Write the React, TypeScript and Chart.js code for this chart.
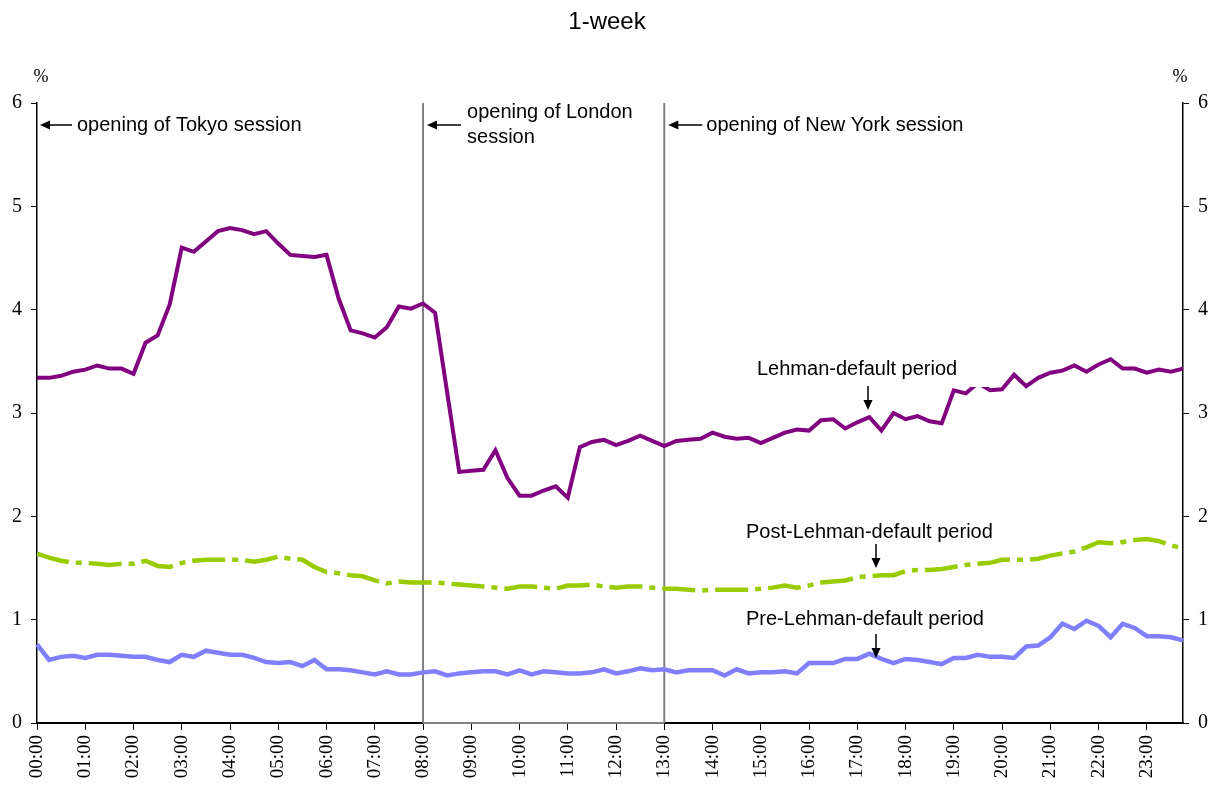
import React, { useEffect, useRef } from 'react';
import { Chart, registerables } from 'chart.js';

Chart.register(...registerables);

const hourLabels = [
  '00:00', '01:00', '02:00', '03:00', '04:00', '05:00', '06:00', '07:00',
  '08:00', '09:00', '10:00', '11:00', '12:00', '13:00', '14:00', '15:00',
  '16:00', '17:00', '18:00', '19:00', '20:00', '21:00', '22:00', '23:00',
];
const quarterMinutes = ['00', '15', '30', '45'];
const categories = hourLabels.flatMap((h) => quarterMinutes.map((m) => h.slice(0, 3) + m));

const lehmanPeriod = [
  3.34, 3.34, 3.36, 3.40, 3.42, 3.46, 3.43, 3.43, 3.38, 3.68, 3.75, 4.05,
  4.60, 4.56, 4.66, 4.76, 4.79, 4.77, 4.73, 4.76, 4.64, 4.53, 4.52, 4.51,
  4.53, 4.11, 3.80, 3.77, 3.73, 3.83, 4.03, 4.01, 4.06, 3.97, 3.20, 2.43,
  2.44, 2.45, 2.64, 2.37, 2.20, 2.20, 2.25, 2.29, 2.18, 2.67, 2.72, 2.74,
  2.69, 2.73, 2.78, 2.73, 2.68, 2.73, 2.74, 2.75, 2.81, 2.77, 2.75, 2.76,
  2.71, 2.76, 2.81, 2.84, 2.83, 2.93, 2.94, 2.85, 2.91, 2.96, 2.83, 3.00,
  2.94, 2.97, 2.92, 2.90, 3.22, 3.19, 3.29, 3.22, 3.23, 3.37, 3.26, 3.34,
  3.39, 3.41, 3.46, 3.40, 3.47, 3.52, 3.43, 3.43, 3.39, 3.42, 3.40, 3.43,
];

const postLehmanPeriod = [
  1.64, 1.60, 1.57, 1.55, 1.55, 1.54, 1.53, 1.54, 1.54, 1.57, 1.52, 1.51,
  1.55, 1.57, 1.58, 1.58, 1.58, 1.58, 1.56, 1.58, 1.61, 1.59, 1.58, 1.51,
  1.46, 1.45, 1.43, 1.42, 1.38, 1.35, 1.37, 1.36, 1.36, 1.36, 1.35, 1.34,
  1.33, 1.32, 1.31, 1.30, 1.32, 1.32, 1.31, 1.30, 1.33, 1.33, 1.34, 1.32,
  1.31, 1.32, 1.32, 1.31, 1.30, 1.30, 1.29, 1.28, 1.29, 1.29, 1.29, 1.29,
  1.30, 1.31, 1.33, 1.31, 1.33, 1.36, 1.37, 1.38, 1.41, 1.42, 1.43, 1.43,
  1.47, 1.48, 1.48, 1.49, 1.51, 1.53, 1.54, 1.55, 1.58, 1.58, 1.58, 1.59,
  1.62, 1.64, 1.66, 1.70, 1.75, 1.74, 1.75, 1.77, 1.78, 1.76, 1.72, 1.69,
];

const preLehmanPeriod = [
  0.76, 0.61, 0.64, 0.65, 0.63, 0.66, 0.66, 0.65, 0.64, 0.64, 0.61, 0.59,
  0.66, 0.64, 0.70, 0.68, 0.66, 0.66, 0.63, 0.59, 0.58, 0.59, 0.55, 0.61,
  0.52, 0.52, 0.51, 0.49, 0.47, 0.50, 0.47, 0.47, 0.49, 0.50, 0.46, 0.48,
  0.49, 0.50, 0.50, 0.47, 0.51, 0.47, 0.50, 0.49, 0.48, 0.48, 0.49, 0.52,
  0.48, 0.50, 0.53, 0.51, 0.52, 0.49, 0.51, 0.51, 0.51, 0.46, 0.52, 0.48,
  0.49, 0.49, 0.50, 0.48, 0.58, 0.58, 0.58, 0.62, 0.62, 0.67, 0.62, 0.58,
  0.62, 0.61, 0.59, 0.57, 0.63, 0.63, 0.66, 0.64, 0.64, 0.63, 0.74, 0.75,
  0.83, 0.96, 0.91, 0.99, 0.94, 0.83, 0.96, 0.92, 0.84, 0.84, 0.83, 0.80,
];

const yTicks = [0, 1, 2, 3, 4, 5, 6];
const sessionOpenings = ['00:00', '08:00', '13:00'];

const SERIF = "'Liberation Serif', 'Times New Roman', serif";
const SANS = "'Liberation Sans', Arial, sans-serif";

function leftArrow(ctx: CanvasRenderingContext2D, x1: number, x2: number, y: number) {
  ctx.beginPath();
  ctx.moveTo(x1, y);
  ctx.lineTo(x2 + 6, y);
  ctx.stroke();
  ctx.beginPath();
  ctx.moveTo(x2, y);
  ctx.lineTo(x2 + 10, y - 4.5);
  ctx.lineTo(x2 + 10, y + 4.5);
  ctx.closePath();
  ctx.fill();
}

function downArrow(ctx: CanvasRenderingContext2D, x: number, y1: number, y2: number) {
  ctx.beginPath();
  ctx.moveTo(x, y1);
  ctx.lineTo(x, y2 - 6);
  ctx.stroke();
  ctx.beginPath();
  ctx.moveTo(x, y2);
  ctx.lineTo(x - 4.5, y2 - 10);
  ctx.lineTo(x + 4.5, y2 - 10);
  ctx.closePath();
  ctx.fill();
}

const overlayPlugin = {
  id: 'overlay',
  beforeDatasetsDraw(chart: any) {
    const { ctx, chartArea, scales } = chart;
    ctx.save();
    ctx.strokeStyle = '#808080';
    ctx.lineWidth = 2;
    for (const lbl of sessionOpenings.slice(1)) {
      const px = scales.x.getPixelForValue(categories.indexOf(lbl));
      ctx.beginPath();
      ctx.moveTo(px, chartArea.top);
      ctx.lineTo(px, chartArea.bottom);
      ctx.stroke();
    }
    ctx.restore();
  },
  afterDatasetsDraw(chart: any) {
    const { ctx, scales } = chart;
    const xs = scales.x;
    const tokyo = xs.getPixelForValue(categories.indexOf('00:00'));
    const london = xs.getPixelForValue(categories.indexOf('08:00'));
    const ny = xs.getPixelForValue(categories.indexOf('13:00'));
    ctx.save();
    // white text box behind the Lehman label
    ctx.fillStyle = '#fff';
    ctx.fillRect(750, 355, 238, 32);
    ctx.fillStyle = '#000';
    ctx.strokeStyle = '#000';
    ctx.lineWidth = 1.5;
    ctx.font = `20px ${SANS}`;
    ctx.textBaseline = 'middle';
    ctx.textAlign = 'left';
    leftArrow(ctx, tokyo + 35, tokyo + 3, 125);
    ctx.fillText('opening of Tokyo session', tokyo + 40, 125);
    leftArrow(ctx, london + 38, london + 4, 125);
    ctx.fillText('opening of London', london + 44, 112);
    ctx.fillText('session', london + 44, 137);
    leftArrow(ctx, ny + 38, ny + 4, 125);
    ctx.fillText('opening of New York session', ny + 42, 125);

    ctx.fillText('Lehman-default period', 757, 369);
    downArrow(ctx, 868, 386, 410);
    ctx.fillText('Post-Lehman-default period', 746, 532);
    downArrow(ctx, 876, 544, 568);
    ctx.fillText('Pre-Lehman-default period', 746, 619);
    downArrow(ctx, 876, 634, 658);
    ctx.restore();
  },
  afterDraw(chart: any) {
    const { ctx, chartArea, scales } = chart;
    ctx.save();
    const l = scales.x.getPixelForValue(categories.indexOf('08:00'));
    const r = scales.x.getPixelForValue(categories.indexOf('13:00'));
    ctx.strokeStyle = '#808080';
    ctx.lineWidth = 2;
    ctx.beginPath();
    ctx.moveTo(l, chartArea.bottom);
    ctx.lineTo(r, chartArea.bottom);
    ctx.stroke();

    ctx.fillStyle = '#000';
    ctx.font = `24px ${SANS}`;
    ctx.textAlign = 'center';
    ctx.textBaseline = 'middle';
    ctx.fillText('1-week', 607, 22);
    ctx.font = `18px ${SERIF}`;
    ctx.fillText('%', 41, 77);
    ctx.fillText('%', 1180, 77);
    ctx.restore();
  },
};

export default function App() {
  const canvasRef = useRef<HTMLCanvasElement | null>(null);

  useEffect(() => {
    document.body.style.margin = '0';
    const canvas = canvasRef.current;
    if (!canvas) return;
    const tickFont = { family: SERIF, size: 20 };
    const yAxisCommon = {
      type: 'linear' as const,
      min: yTicks[0],
      max: yTicks[yTicks.length - 1],
      afterBuildTicks: (scale: any) => {
        scale.ticks = yTicks.map((v) => ({ value: v }));
      },
      ticks: { color: '#000', font: tickFont, padding: 9 },
      grid: { drawOnChartArea: false, drawTicks: true, tickLength: 6, color: '#000', lineWidth: 1 },
      border: { display: true, color: '#000', width: 1.5 },
    };
    const chart = new Chart(canvas, {
      type: 'line',
      data: {
        labels: categories,
        datasets: [
          {
            label: 'Lehman-default period',
            data: lehmanPeriod,
            borderColor: '#800080',
            borderWidth: 4,
            pointRadius: 0,
            tension: 0,
            fill: false,
          },
          {
            label: 'Post-Lehman-default period',
            data: postLehmanPeriod,
            borderColor: '#99CC00',
            borderWidth: 4.5,
            borderDash: [33, 7, 6, 7],
            borderCapStyle: 'butt',
            pointRadius: 0,
            tension: 0,
            fill: false,
          },
          {
            label: 'Pre-Lehman-default period',
            data: preLehmanPeriod,
            borderColor: '#8080FF',
            borderWidth: 4.5,
            pointRadius: 0,
            tension: 0,
            fill: false,
          },
        ],
      },
      options: {
        animation: false,
        responsive: false,
        devicePixelRatio: 1,
        layout: { padding: { top: 103, left: 0, right: 0, bottom: 0 } },
        plugins: {
          legend: { display: false },
          title: { display: false },
          tooltip: { enabled: false },
        },
        scales: {
          x: {
            type: 'category',
            offset: false,
            afterFit: (scale: any) => {
              scale.height = 64;
            },
            ticks: {
              autoSkip: false,
              minRotation: 90,
              maxRotation: 90,
              padding: 5,
              color: '#000',
              font: { family: SERIF, size: 19 },
              callback: (_v: any, idx: number) => (idx % 4 === 0 ? hourLabels[idx / 4] : ''),
            },
            grid: {
              drawOnChartArea: false,
              drawTicks: true,
              tickLength: 7,
              lineWidth: 1,
              color: (c: any) => (c.index % 4 === 0 ? '#000' : 'rgba(0,0,0,0)'),
            },
            border: { display: true, color: '#000', width: 2 },
          },
          y: {
            ...yAxisCommon,
            position: 'left',
            afterFit: (scale: any) => {
              scale.width = 37;
            },
          },
          y2: {
            ...yAxisCommon,
            position: 'right',
            afterFit: (scale: any) => {
              scale.width = 38;
            },
          },
        },
      },
      plugins: [overlayPlugin],
    } as any);
    return () => chart.destroy();
  }, []);

  return (
    <div style={{ width: 1221, height: 787, background: '#fff' }}>
      <canvas ref={canvasRef} width={1221} height={787} style={{ display: 'block' }} />
    </div>
  );
}
